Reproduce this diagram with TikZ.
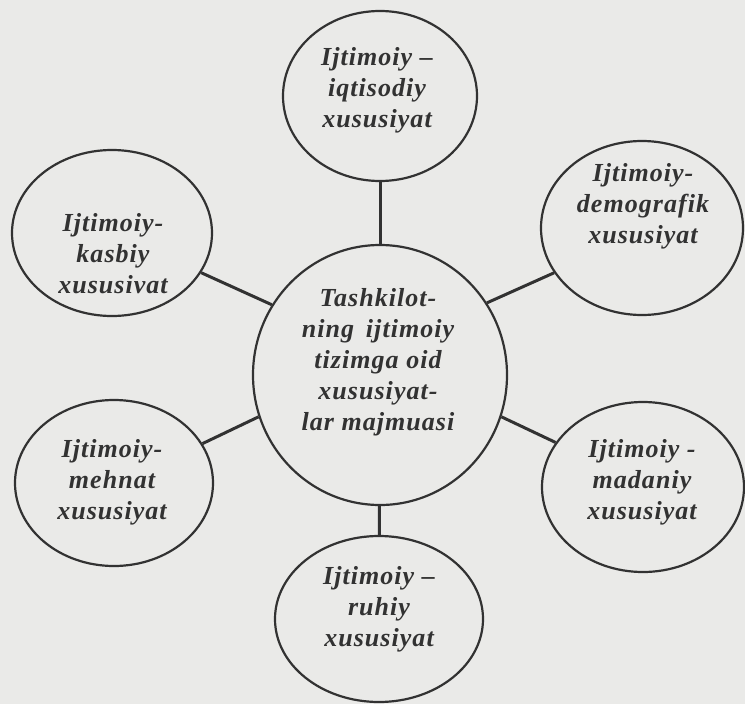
\documentclass[tikz,border=0pt]{standalone}
\usepackage{fontspec}
\setmainfont{Liberation Serif}
\usetikzlibrary{shapes.geometric}
\definecolor{bg}{RGB}{234,234,232}
\definecolor{ink}{RGB}{50,50,50}
\tikzset{
  bubble/.style={draw=ink, line width=2.2pt, ellipse, inner sep=0pt},
  lbl/.style={align=center, text=ink, inner sep=0pt,
    font=\fontsize{26}{31}\selectfont\bfseries\itshape\addfontfeature{LetterSpace=4}},
  link/.style={draw=ink, line width=3pt}
}
\begin{document}
\begin{tikzpicture}[x=1pt,y=-1pt]
\fill[bg] (0,0) rectangle (745,704);
\useasboundingbox (0,0) rectangle (745,704);
% bubbles
\node[bubble, minimum width=254pt, minimum height=260pt] (c) at (380,375) {};
\node[bubble, minimum width=194pt, minimum height=170pt] (t) at (380,96) {};
\node[bubble, minimum width=200pt, minimum height=166pt] (tl) at (112,233) {};
\node[bubble, minimum width=202pt, minimum height=174pt] (tr) at (642,228) {};
\node[bubble, minimum width=198pt, minimum height=166pt] (bl) at (114,483) {};
\node[bubble, minimum width=202pt, minimum height=170pt] (br) at (643,487) {};
\node[bubble, minimum width=208pt, minimum height=166pt] (b) at (379,619) {};
% links
\draw[link] (c) -- (t);
\draw[link] (c.147) -- (tl.-24);
\draw[link] (c.34) -- (tr.-153);
\draw[link] (c.199) -- (bl.24);
\draw[link] (c.-19) -- (br.153);
\draw[link] (c) -- (b);
% labels
\node[lbl] (ct) at (378,362) {Tashkilot-\\ning\, ijtimoiy\\tizimga oid\\xususiyat-\\lar majmuasi};
\node[lbl] (tt) at (377,90) {Ijtimoiy –\\iqtisodiy\\xususiyat};
\node[lbl] (tlt) at (113,254) {Ijtimoiy-\\kasbiy\\xususivat};
\node[lbl] (trt) at (643,206) {Ijtimoiy-\\demografik\\xususiyat};
\node[lbl] (blt) at (112,482) {Ijtimoiy-\\mehnat\\xususiyat};
\node[lbl] (brt) at (642,482) {Ijtimoiy -\\madaniy\\xususiyat};
\node[lbl] (bt) at (379,609) {Ijtimoiy –\\ruhiy\\xususiyat};
\end{tikzpicture}
\end{document}
